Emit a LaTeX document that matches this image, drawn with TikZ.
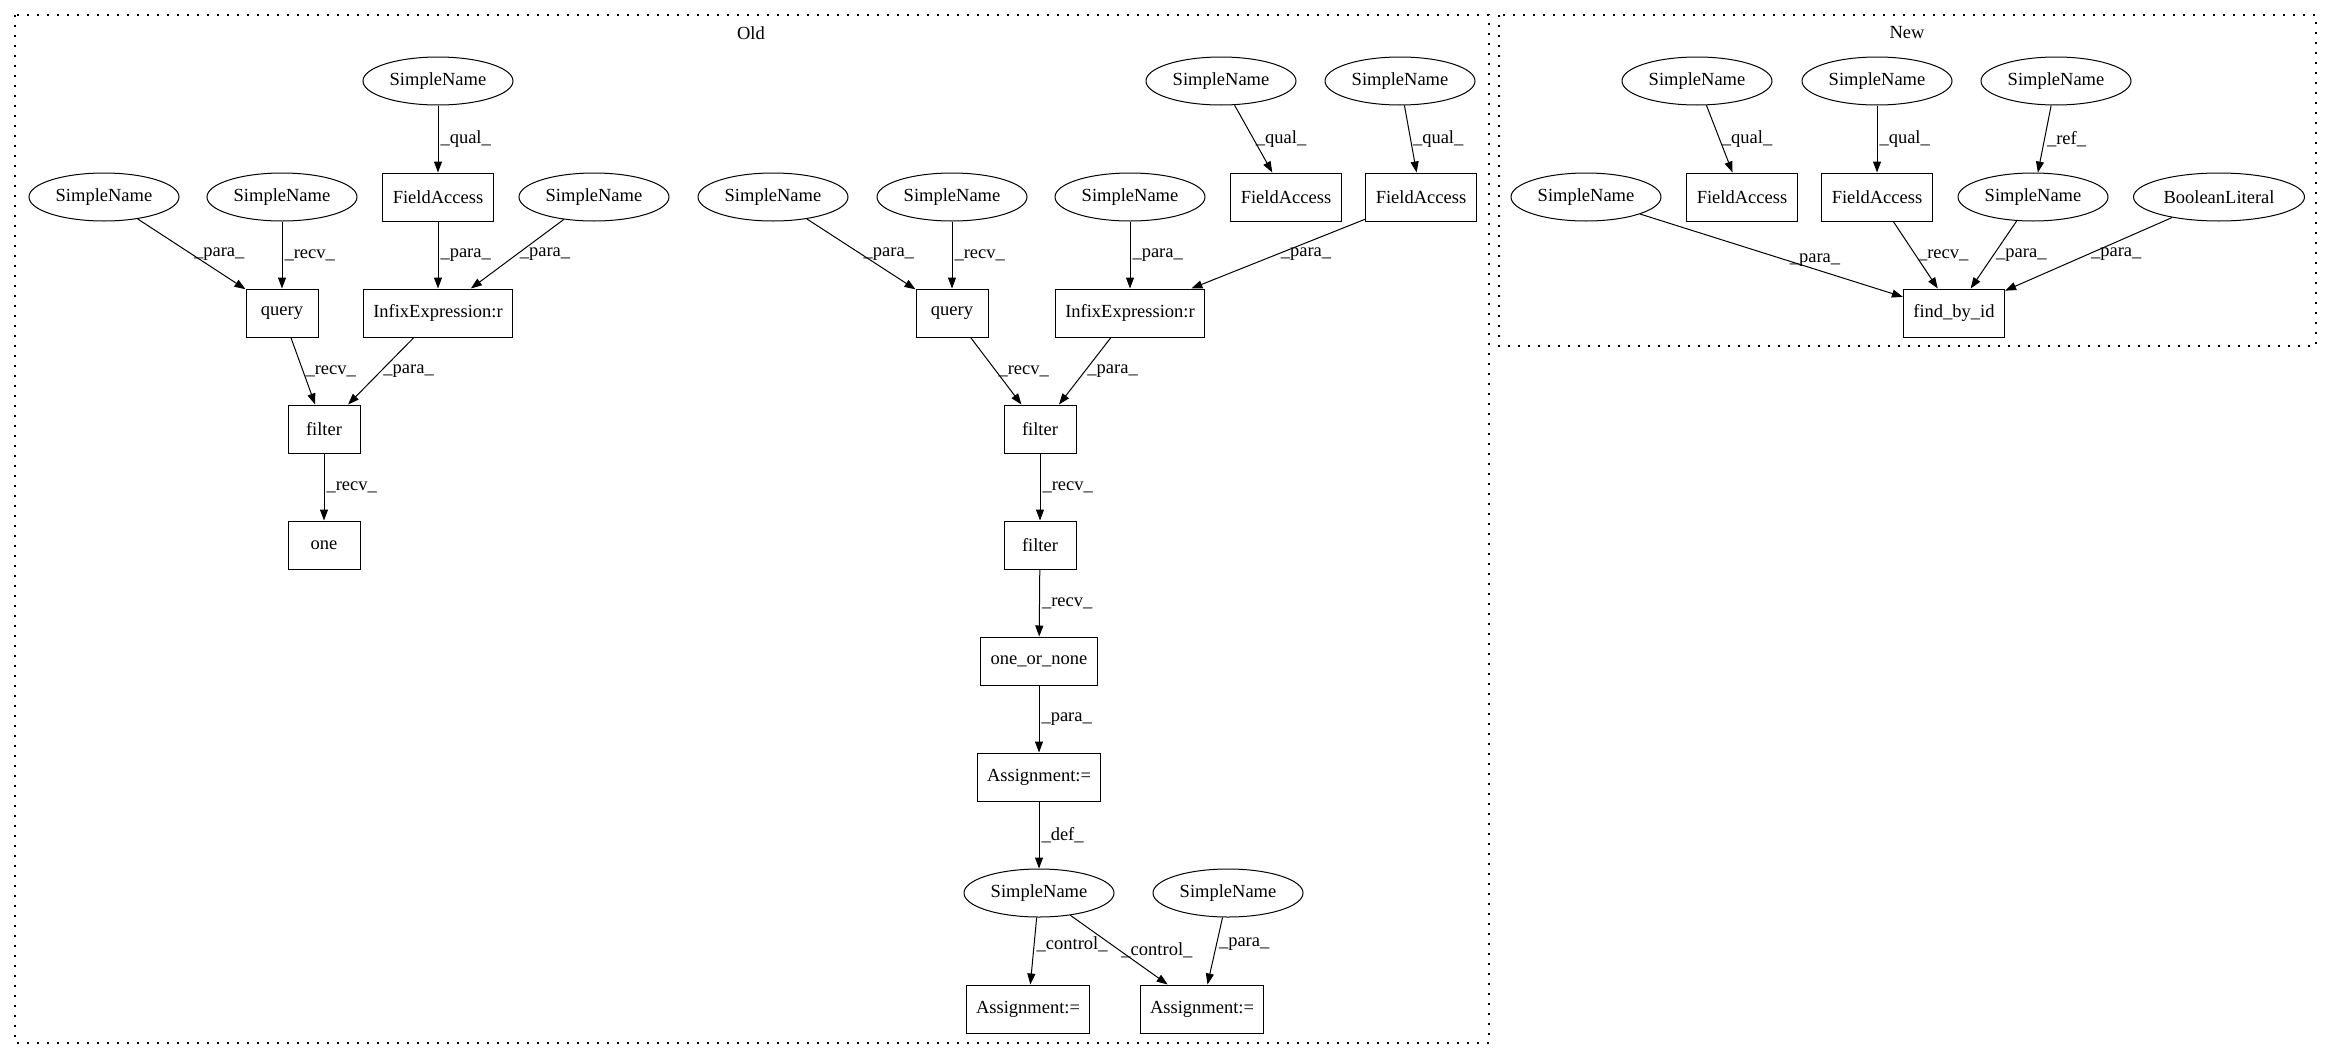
\documentclass[tikz,border=0pt]{standalone}
\usepackage{fontspec}
\setmainfont{Liberation Serif}
\usetikzlibrary{arrows.meta,shapes.geometric}

\begin{document}
\begin{tikzpicture}[x=1pt,y=-1pt,
    font=\fontsize{18.5}{22}\selectfont,
    sname/.style={draw,ellipse,line width=1pt,minimum width=150pt,minimum height=48pt,inner sep=1pt},
    astbox/.style={draw,rectangle,line width=1pt,minimum width=72pt,minimum height=48pt,inner xsep=10pt,inner ysep=2pt},
    link/.style={-{Triangle[length=11pt,width=8pt]},line width=1pt},
    lbl/.style={midway,anchor=west,inner sep=2pt},
    cluster/.style={line width=1.2pt,dash pattern=on 2pt off 8pt}]
    \useasboundingbox (0,0) rectangle (2332,1060);
    \draw[cluster] (15,15) rectangle (1489,1043);
    \draw[cluster] (1499,15) rectangle (2316,346);
    \node (oldtitle) at (751,33) {Old};
    \node (newtitle) at (1907,33) {New};
    \node[sname] (o_sq1) at (438,81) {SimpleName};
    \node[sname] (o_sp1) at (104,197) {SimpleName};
    \node[sname] (o_sr1) at (282,197) {SimpleName};
    \node[astbox] (o_fa1) at (438,197) {FieldAccess};
    \node[sname] (o_sp2) at (594,197) {SimpleName};
    \node[astbox] (o_qry1) at (282,313) {query};
    \node[astbox] (o_inf1) at (438,313) {InfixExpression:r};
    \node[astbox] (o_flt1) at (324,429) {filter};
    \node[astbox] (o_one) at (324,545) {one};
    \node[sname] (o_sq2) at (1221,81) {SimpleName};
    \node[sname] (o_sq3) at (1400,81) {SimpleName};
    \node[sname] (o_sp3) at (773,197) {SimpleName};
    \node[sname] (o_sr2) at (952,197) {SimpleName};
    \node[sname] (o_sp4) at (1130,197) {SimpleName};
    \node[astbox] (o_fa2) at (1286,197) {FieldAccess};
    \node[astbox] (o_fa3) at (1421,197) {FieldAccess};
    \node[astbox] (o_qry2) at (952,313) {query};
    \node[astbox] (o_inf2) at (1130,313) {InfixExpression:r};
    \node[astbox] (o_flt2) at (1040,429) {filter};
    \node[astbox] (o_flt3) at (1040,545) {filter};
    \node[astbox] (o_oon) at (1039,661) {one\_or\_none};
    \node[astbox] (o_asg1) at (1039,777) {Assignment:=};
    \node[sname] (o_var) at (1039,893) {SimpleName};
    \node[sname] (o_sp5) at (1228,893) {SimpleName};
    \node[astbox] (o_asg2) at (1028,1009) {Assignment:=};
    \node[astbox] (o_asg3) at (1202,1009) {Assignment:=};
    \node[sname] (n_sq1) at (1697,81) {SimpleName};
    \node[sname] (n_sq2) at (1877,81) {SimpleName};
    \node[sname] (n_sref) at (2056,81) {SimpleName};
    \node[sname] (n_sp1) at (1586,197) {SimpleName};
    \node[astbox] (n_fa1) at (1742,197) {FieldAccess};
    \node[astbox] (n_fa2) at (1877,197) {FieldAccess};
    \node[sname] (n_sval) at (2033,197) {SimpleName};
    \node[sname,minimum width=171pt] (n_bool) at (2219,197) {BooleanLiteral};
    \node[astbox] (n_find) at (1954,313) {find\_by\_id};
    \draw[link] (o_sq1) -- node[lbl] {\_qual\_} (o_fa1);
    \draw[link] (o_sp1) -- node[lbl] {\_para\_} (o_qry1);
    \draw[link] (o_sr1) -- node[lbl] {\_recv\_} (o_qry1);
    \draw[link] (o_fa1) -- node[lbl] {\_para\_} (o_inf1);
    \draw[link] (o_sp2) -- node[lbl] {\_para\_} (o_inf1);
    \draw[link] (o_qry1) -- node[lbl] {\_recv\_} (o_flt1);
    \draw[link] (o_inf1) -- node[lbl] {\_para\_} (o_flt1);
    \draw[link] (o_flt1) -- node[lbl] {\_recv\_} (o_one);
    \draw[link] (o_sq2) -- node[lbl] {\_qual\_} (o_fa2);
    \draw[link] (o_sq3) -- node[lbl] {\_qual\_} (o_fa3);
    \draw[link] (o_sp3) -- node[lbl] {\_para\_} (o_qry2);
    \draw[link] (o_sr2) -- node[lbl] {\_recv\_} (o_qry2);
    \draw[link] (o_sp4) -- node[lbl] {\_para\_} (o_inf2);
    \draw[link] (o_fa3) -- node[lbl] {\_para\_} (o_inf2);
    \draw[link] (o_qry2) -- node[lbl] {\_recv\_} (o_flt2);
    \draw[link] (o_inf2) -- node[lbl] {\_para\_} (o_flt2);
    \draw[link] (o_flt2) -- node[lbl] {\_recv\_} (o_flt3);
    \draw[link] (o_flt3) -- node[lbl] {\_recv\_} (o_oon);
    \draw[link] (o_oon) -- node[lbl] {\_para\_} (o_asg1);
    \draw[link] (o_asg1) -- node[lbl] {\_def\_} (o_var);
    \draw[link] (o_var) -- node[lbl,pos=0.4] {\_control\_} (o_asg2);
    \draw[link] (o_var) -- node[lbl,pos=0.5] {\_control\_} (o_asg3);
    \draw[link] (o_sp5) -- node[lbl,pos=0.4] {\_para\_} (o_asg3);
    \draw[link] (n_sq1) -- node[lbl] {\_qual\_} (n_fa1);
    \draw[link] (n_sq2) -- node[lbl] {\_qual\_} (n_fa2);
    \draw[link] (n_sref) -- node[lbl] {\_ref\_} (n_sval);
    \draw[link] (n_sp1) -- node[lbl,pos=0.56] {\_para\_} (n_find);
    \draw[link] (n_fa2) -- node[lbl] {\_recv\_} (n_find);
    \draw[link] (n_sval) -- node[lbl] {\_para\_} (n_find);
    \draw[link] (n_bool) -- node[lbl] {\_para\_} (n_find);
\end{tikzpicture}
\end{document}
